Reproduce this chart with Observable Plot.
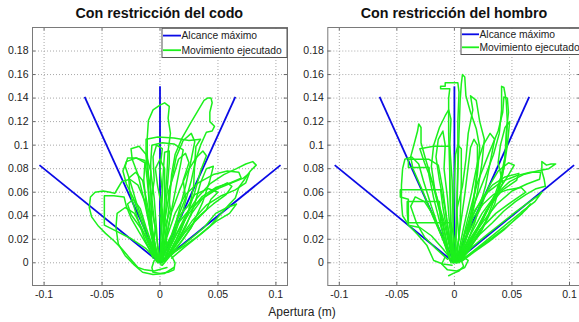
<!DOCTYPE html>
<html>
<head>
<meta charset="utf-8">
<script src="https://cdn.jsdelivr.net/npm/d3@7"></script>
<script src="https://cdn.jsdelivr.net/npm/@observablehq/plot@0.6"></script>
<style>
  html, body { margin: 0; padding: 0; background: #fff; overflow: hidden; }
  #wrap { position: relative; width: 579px; height: 322px; overflow: hidden; background: #fff;
          font-family: "Liberation Sans", Arial, Helvetica, sans-serif; }
  #wrap > svg { position: absolute; top: 0; }
  #overlay { position: absolute; left: 0; top: 0; pointer-events: none; }
</style>
</head>
<body>
<div id="wrap"></div>
<script>
// ---------- data ----------
const titulos = ["Con restricción del codo", "Con restricción del hombro"];
const etiquetaX = "Apertura (m)";
const leyenda = ["Alcance máximo", "Movimiento ejecutado"];

const xTicks = [-0.1, -0.05, 0, 0.05, 0.1];
const xTickLabels = ["-0.1", "-0.05", "0", "0.05", "0.1"];
const yTicks = [0, 0.02, 0.04, 0.06, 0.08, 0.1, 0.12, 0.14, 0.16, 0.18];
const yTickLabels = ["0", "0.02", "0.04", "0.06", "0.08", "0.1", "0.12", "0.14", "0.16", "0.18"];
const xDominio = [-0.11, 0.11];
const yDominio = [-0.0193, 0.2];

// maximum reach rays (from the origin)
const origen = [0, 0];
const alcanceX = [-0.104, -0.065, 0, 0.065, 0.104];
const alcanceY = [0.083, 0.141, 0.150, 0.141, 0.083];

// executed movements, elbow restricted (x, y in m)
const codoTrayectorias = [
  [[0.001,-0.002],[-0.002,0.015],[-0.005,0.035],[-0.007,0.055],[-0.010,0.075],[-0.011,0.092],[-0.011,0.106],[-0.010,0.121],[-0.006,0.130],[0.000,0.134],[0.004,0.136],[0.008,0.133],[0.007,0.123],[0.009,0.110],[0.007,0.095],[0.006,0.075],[0.004,0.050],[0.003,0.025],[0.001,0.004]],
  [[0.002,0.002],[0.005,0.025],[0.008,0.050],[0.010,0.075],[0.013,0.092],[0.019,0.106],[0.026,0.118],[0.032,0.128],[0.038,0.138],[0.041,0.140],[0.044,0.140],[0.045,0.136],[0.043,0.128],[0.043,0.120],[0.047,0.116],[0.045,0.112],[0.040,0.111],[0.035,0.100],[0.031,0.088],[0.027,0.070],[0.020,0.045],[0.012,0.022],[0.005,0.004]],
  [[-0.002,0.001],[-0.006,0.020],[-0.009,0.045],[-0.010,0.070],[-0.012,0.090],[-0.012,0.105],[-0.002,0.107],[0.012,0.106],[0.025,0.104],[0.035,0.105],[0.031,0.099],[0.030,0.085],[0.029,0.065],[0.025,0.045],[0.017,0.025],[0.008,0.008],[0.002,0.000]],
  [[-0.004,0.003],[-0.007,0.030],[-0.008,0.060],[-0.008,0.085],[-0.007,0.100],[0.002,0.102],[0.012,0.101],[0.020,0.096],[0.018,0.085],[0.014,0.065],[0.009,0.040],[0.004,0.015],[0.000,0.001]],
  [[0.006,-0.004],[-0.005,-0.007],[-0.013,-0.006],[-0.019,-0.004],[-0.027,0.005],[-0.033,0.012],[-0.040,0.019],[-0.047,0.025],[-0.053,0.031],[-0.059,0.039],[-0.061,0.047],[-0.060,0.056],[-0.056,0.060],[-0.049,0.061],[-0.043,0.060],[-0.039,0.059],[-0.036,0.064],[-0.033,0.069],[-0.026,0.071],[-0.019,0.066],[-0.013,0.052],[-0.008,0.032],[-0.004,0.012],[-0.001,0.002]],
  [[-0.003,0.003],[-0.012,0.012],[-0.024,0.020],[-0.036,0.026],[-0.048,0.032],[-0.048,0.045],[-0.048,0.057],[-0.040,0.057],[-0.031,0.056],[-0.029,0.048],[-0.025,0.038],[-0.018,0.026],[-0.010,0.013],[-0.003,0.003]],
  [[0.012,-0.004],[0.004,-0.009],[-0.006,-0.010],[-0.015,-0.008],[-0.022,-0.002],[-0.030,0.006],[-0.036,0.016],[-0.038,0.030],[-0.037,0.042],[-0.030,0.047],[-0.022,0.042],[-0.016,0.030],[-0.010,0.016],[-0.004,0.004]],
  [[-0.003,0.001],[-0.010,0.018],[-0.017,0.038],[-0.023,0.055],[-0.029,0.067],[-0.032,0.078],[-0.029,0.086],[-0.021,0.089],[-0.013,0.087],[-0.011,0.070],[-0.009,0.048],[-0.006,0.025],[-0.002,0.005]],
  [[0.003,0.002],[0.012,0.009],[0.022,0.015],[0.032,0.022],[0.043,0.031],[0.052,0.041],[0.060,0.050],[0.065,0.055],[0.068,0.064],[0.073,0.071],[0.078,0.078],[0.083,0.083],[0.080,0.086],[0.074,0.084],[0.066,0.080],[0.055,0.075],[0.043,0.067],[0.032,0.055],[0.022,0.040],[0.013,0.022],[0.005,0.006]],
  [[0.002,0.003],[0.008,0.018],[0.016,0.034],[0.026,0.046],[0.037,0.055],[0.050,0.063],[0.062,0.068],[0.072,0.072],[0.077,0.076],[0.074,0.068],[0.065,0.062],[0.053,0.057],[0.040,0.049],[0.028,0.036],[0.016,0.019],[0.005,0.004]],
  [[0.001,0.002],[0.006,0.022],[0.013,0.042],[0.022,0.058],[0.033,0.068],[0.046,0.075],[0.058,0.078],[0.068,0.077],[0.070,0.072],[0.061,0.068],[0.048,0.064],[0.036,0.056],[0.025,0.042],[0.014,0.024],[0.004,0.004]],
  [[0.002,0.000],[0.005,0.020],[0.010,0.043],[0.017,0.062],[0.024,0.078],[0.031,0.089],[0.037,0.095],[0.040,0.091],[0.035,0.078],[0.030,0.060],[0.023,0.040],[0.014,0.020],[0.005,0.003]],
  [[0.000,0.000],[0.001,0.030],[0.002,0.058],[0.003,0.080],[0.004,0.094],[0.008,0.095],[0.008,0.085],[0.006,0.060],[0.004,0.030],[0.002,0.005]],
  [[-0.001,0.000],[-0.003,0.028],[-0.005,0.055],[-0.008,0.078],[-0.012,0.092],[-0.018,0.099],[-0.025,0.097],[-0.024,0.088],[-0.019,0.075],[-0.013,0.050],[-0.007,0.022],[-0.002,0.003]],
  [[-0.005,0.002],[-0.007,-0.004],[-0.006,-0.008],[0.000,-0.009],[0.007,-0.008],[0.012,-0.006],[0.013,0.000],[0.010,0.006],[0.003,0.008],[-0.002,0.004]],
  [[0.000,0.003],[0.004,0.035],[0.009,0.065],[0.014,0.090],[0.020,0.104],[0.027,0.110],[0.030,0.103],[0.027,0.088],[0.022,0.065],[0.014,0.035],[0.005,0.006]],
  [[0.003,0.001],[0.010,0.010],[0.019,0.026],[0.028,0.043],[0.037,0.055],[0.048,0.063],[0.058,0.068],[0.062,0.065],[0.057,0.058],[0.046,0.050],[0.034,0.040],[0.021,0.025],[0.009,0.008]],
  [[-0.002,0.002],[-0.009,0.017],[-0.017,0.030],[-0.025,0.041],[-0.028,0.050],[-0.023,0.054],[-0.017,0.046],[-0.012,0.030],[-0.005,0.010]],
  [[-0.006,0.004],[-0.014,0.022],[-0.021,0.043],[-0.026,0.060],[-0.027,0.072],[-0.021,0.077],[-0.015,0.070],[-0.011,0.050],[-0.006,0.024],[-0.002,0.004]],
  [[0.001,0.001],[0.003,0.020],[0.002,0.045],[-0.002,0.065],[-0.004,0.080],[0.000,0.088],[0.004,0.080],[0.004,0.055],[0.003,0.025],[0.001,0.002]],
  [[0.004,0.001],[0.014,0.016],[0.022,0.030],[0.030,0.050],[0.035,0.068],[0.040,0.080],[0.046,0.082],[0.043,0.070],[0.037,0.052],[0.027,0.030],[0.014,0.012],[0.004,0.002]],
  [[-0.003,0.002],[-0.008,0.025],[-0.012,0.050],[-0.014,0.070],[-0.013,0.085],[-0.020,0.089],[-0.028,0.089],[-0.030,0.082],[-0.026,0.070],[-0.020,0.050],[-0.012,0.028],[-0.005,0.008]],
  [[0.002,0.001],[0.006,0.015],[0.004,0.030],[0.009,0.045],[0.007,0.060],[0.012,0.075],[0.016,0.088],[0.022,0.093],[0.025,0.085],[0.020,0.070],[0.022,0.055],[0.016,0.040],[0.013,0.025],[0.006,0.010]],
  [[0.000,0.002],[0.004,0.012],[0.010,0.024],[0.015,0.038],[0.024,0.048],[0.030,0.058],[0.042,0.063],[0.050,0.060],[0.044,0.054],[0.040,0.045],[0.030,0.035],[0.020,0.020],[0.010,0.008]],
  [[-0.002,0.000],[-0.006,0.012],[-0.004,0.030],[-0.008,0.050],[-0.005,0.070],[-0.006,0.090],[-0.003,0.100],[0.002,0.097],[0.000,0.080],[0.002,0.060],[0.000,0.040],[0.002,0.020],[0.000,0.003]],
  [[0.002,-0.002],[0.008,0.005],[0.016,0.012],[0.026,0.020],[0.038,0.030],[0.048,0.042],[0.058,0.047],[0.066,0.050],[0.060,0.042],[0.048,0.035],[0.036,0.025],[0.022,0.014],[0.010,0.004]]
];

// executed movements, shoulder restricted (x, y in m)
const hombroTrayectorias = [
  [[-0.002,0.000],[-0.003,0.035],[-0.004,0.075],[-0.005,0.110],[-0.005,0.140],[-0.004,0.148],[-0.012,0.148],[-0.012,0.150],[-0.008,0.150],[-0.008,0.153],[0.003,0.153],[0.004,0.145],[0.003,0.120],[0.003,0.085],[0.002,0.045],[0.001,0.005]],
  [[0.000,0.000],[0.002,0.035],[0.003,0.075],[0.004,0.110],[0.005,0.138],[0.006,0.152],[0.007,0.160],[0.009,0.158],[0.010,0.142],[0.014,0.128],[0.019,0.114],[0.022,0.098],[0.020,0.075],[0.016,0.050],[0.011,0.025],[0.004,0.003]],
  [[0.002,0.000],[0.009,0.025],[0.018,0.052],[0.027,0.074],[0.034,0.092],[0.039,0.110],[0.041,0.130],[0.041,0.150],[0.043,0.149],[0.045,0.138],[0.046,0.120],[0.045,0.098],[0.042,0.075],[0.035,0.050],[0.024,0.028],[0.012,0.010],[0.004,0.002]],
  [[0.003,0.002],[0.011,0.035],[0.020,0.068],[0.030,0.093],[0.038,0.112],[0.042,0.128],[0.043,0.141],[0.046,0.140],[0.047,0.128],[0.045,0.110],[0.044,0.090],[0.038,0.062],[0.027,0.035],[0.013,0.012],[0.005,0.002]],
  [[-0.003,0.000],[-0.010,0.020],[-0.019,0.040],[-0.028,0.062],[-0.036,0.080],[-0.038,0.090],[-0.035,0.101],[-0.032,0.112],[-0.031,0.118],[-0.029,0.115],[-0.029,0.102],[-0.025,0.088],[-0.019,0.068],[-0.012,0.040],[-0.004,0.006]],
  [[-0.004,0.003],[-0.010,0.035],[-0.017,0.062],[-0.020,0.082],[-0.018,0.100],[-0.013,0.115],[-0.008,0.125],[-0.005,0.130],[-0.003,0.122],[-0.004,0.100],[-0.004,0.065],[-0.003,0.030],[-0.001,0.004]],
  [[-0.002,-0.002],[-0.010,-0.001],[-0.018,0.002],[-0.024,0.015],[-0.032,0.024],[-0.039,0.031],[-0.045,0.040],[-0.046,0.052],[-0.046,0.066],[-0.045,0.080],[-0.043,0.088],[-0.037,0.090],[-0.031,0.084],[-0.027,0.070],[-0.020,0.048],[-0.012,0.025],[-0.004,0.006]],
  [[-0.003,0.002],[-0.008,0.018],[-0.012,0.035],[-0.013,0.052],[-0.025,0.052],[-0.041,0.052],[-0.041,0.043],[-0.040,0.032],[-0.030,0.030],[-0.020,0.023],[-0.010,0.012],[-0.003,0.003]],
  [[-0.001,0.000],[-0.006,0.025],[-0.010,0.047],[-0.012,0.062],[-0.030,0.062],[-0.047,0.062],[-0.047,0.056],[-0.040,0.054],[-0.040,0.044],[-0.040,0.034],[-0.020,0.034],[-0.003,0.034],[0.001,0.015],[0.001,0.002]],
  [[-0.004,0.002],[-0.011,0.028],[-0.018,0.055],[-0.022,0.074],[-0.022,0.081],[-0.032,0.081],[-0.040,0.081],[-0.040,0.088],[-0.031,0.088],[-0.022,0.088],[-0.014,0.083],[-0.010,0.062],[-0.006,0.032],[-0.002,0.004]],
  [[0.003,0.001],[0.012,0.012],[0.022,0.024],[0.033,0.034],[0.043,0.044],[0.053,0.052],[0.062,0.058],[0.071,0.063],[0.079,0.065],[0.078,0.071],[0.076,0.078],[0.076,0.086],[0.080,0.083],[0.084,0.084],[0.088,0.084],[0.082,0.080],[0.072,0.078],[0.060,0.075],[0.048,0.069],[0.036,0.058],[0.024,0.042],[0.013,0.022],[0.004,0.004]],
  [[0.004,0.000],[0.014,0.012],[0.026,0.022],[0.040,0.033],[0.053,0.043],[0.064,0.051],[0.073,0.057],[0.076,0.060],[0.070,0.052],[0.058,0.043],[0.043,0.031],[0.028,0.019],[0.014,0.008],[0.005,0.001]],
  [[0.002,0.002],[0.009,0.024],[0.018,0.045],[0.029,0.060],[0.041,0.069],[0.054,0.074],[0.066,0.077],[0.075,0.077],[0.074,0.071],[0.063,0.067],[0.050,0.061],[0.037,0.050],[0.025,0.035],[0.013,0.018],[0.004,0.003]],
  [[0.006,0.001],[0.017,0.009],[0.030,0.018],[0.043,0.028],[0.054,0.038],[0.063,0.046],[0.066,0.050],[0.059,0.042],[0.046,0.031],[0.031,0.020],[0.017,0.010],[0.007,0.003]],
  [[0.001,0.000],[0.005,0.030],[0.009,0.058],[0.012,0.082],[0.014,0.098],[0.017,0.105],[0.020,0.100],[0.020,0.082],[0.017,0.055],[0.011,0.025],[0.003,0.002]],
  [[0.002,0.001],[0.008,0.030],[0.015,0.060],[0.020,0.085],[0.025,0.100],[0.031,0.110],[0.035,0.105],[0.032,0.090],[0.027,0.065],[0.018,0.035],[0.006,0.004]],
  [[-0.005,-0.011],[-0.001,-0.009],[0.004,-0.007],[0.008,-0.003],[0.006,0.002],[0.002,0.003]],
  [[-0.008,0.005],[-0.011,-0.001],[-0.006,-0.006],[0.002,-0.007],[0.009,-0.004],[0.012,0.002],[0.006,0.006]],
  [[-0.001,0.000],[-0.001,0.035],[0.000,0.070],[0.001,0.092],[0.003,0.100],[0.006,0.097],[0.006,0.070],[0.005,0.035],[0.002,0.002]],
  [[0.002,0.000],[0.012,0.025],[0.022,0.045],[0.030,0.065],[0.038,0.078],[0.047,0.085],[0.052,0.083],[0.046,0.073],[0.036,0.058],[0.022,0.032],[0.007,0.005]],
  [[-0.002,0.003],[-0.009,0.035],[-0.018,0.065],[-0.026,0.085],[-0.030,0.097],[-0.018,0.099],[-0.004,0.099],[-0.002,0.070],[-0.001,0.030],[0.000,0.004]],
  [[0.003,0.002],[0.010,0.020],[0.016,0.040],[0.024,0.055],[0.033,0.066],[0.044,0.073],[0.056,0.076],[0.054,0.070],[0.042,0.062],[0.030,0.048],[0.018,0.026],[0.006,0.004]],
  [[-0.001,0.001],[0.004,0.020],[0.002,0.045],[0.007,0.065],[0.010,0.088],[0.012,0.110],[0.016,0.130],[0.014,0.142],[0.019,0.138],[0.022,0.120],[0.026,0.105],[0.024,0.085],[0.020,0.060],[0.014,0.035],[0.006,0.008]],
  [[0.000,0.001],[-0.004,0.020],[-0.008,0.045],[-0.013,0.070],[-0.016,0.090],[-0.014,0.105],[-0.010,0.112],[-0.008,0.100],[-0.009,0.080],[-0.006,0.055],[-0.004,0.030],[-0.001,0.004]],
  [[0.003,0.000],[0.010,0.015],[0.020,0.030],[0.028,0.045],[0.036,0.055],[0.042,0.068],[0.038,0.085],[0.040,0.100],[0.044,0.115],[0.048,0.120],[0.046,0.100],[0.043,0.080],[0.036,0.060],[0.024,0.035],[0.010,0.010]],
  [[-0.006,0.003],[-0.016,0.012],[-0.026,0.022],[-0.033,0.034],[-0.038,0.048],[-0.034,0.056],[-0.026,0.052],[-0.018,0.040],[-0.012,0.025],[-0.005,0.008]],
  [[0.004,0.001],[0.010,0.020],[0.016,0.038],[0.025,0.050],[0.034,0.058],[0.046,0.062],[0.058,0.064],[0.062,0.060],[0.050,0.052],[0.036,0.042],[0.022,0.028],[0.010,0.010]]
];

// ---------- drawing ----------
const AZUL = "#0a0ae6";
const VERDE = "#1cf01c";
const FONT = "'Liberation Sans', Arial, Helvetica, sans-serif";

function panel(trajs, width, marginLeft, marginRight) {
  const rows = trajs.flatMap((t, id) => t.map(([x, y]) => ({x, y, id})));
  const rays = alcanceX.map((x, i) => ({x1: origen[0], y1: origen[1], x2: x, y2: alcanceY[i]}));
  const xf = d => xTickLabels[xTicks.indexOf(d)];
  const yf = d => yTickLabels[yTicks.indexOf(d)];
  const tx = 0.0028, ty = 0.0028;
  return Plot.plot({
    width, height: 322,
    marginLeft, marginRight, marginTop: 27, marginBottom: 37,
    style: {fontFamily: FONT, fontSize: "10.5px", color: "#222", background: "transparent", overflow: "visible"},
    x: {domain: xDominio, label: null},
    y: {domain: yDominio, label: null},
    marks: [
      Plot.gridX(xTicks, {stroke: "#a8a8a8", strokeOpacity: 1, strokeDasharray: "1,2"}),
      Plot.gridY(yTicks, {stroke: "#a8a8a8", strokeOpacity: 1, strokeDasharray: "1,2"}),
      Plot.link(rays, {x1: "x1", y1: "y1", x2: "x2", y2: "y2", stroke: AZUL, strokeWidth: 1.8}),
      Plot.line(rows, {x: "x", y: "y", z: "id", stroke: VERDE, strokeWidth: 1.5, strokeLinejoin: "round"}),
      Plot.ruleX(xTicks, {x: d => d, y1: yDominio[0], y2: yDominio[0] + ty, stroke: "#666"}),
      Plot.ruleX(xTicks, {x: d => d, y1: yDominio[1], y2: yDominio[1] - ty, stroke: "#666"}),
      Plot.ruleY(yTicks, {y: d => d, x1: xDominio[0], x2: xDominio[0] + tx, stroke: "#666"}),
      Plot.ruleY(yTicks, {y: d => d, x1: xDominio[1], x2: xDominio[1] - tx, stroke: "#666"}),
      Plot.frame({stroke: "#7a7a7a"}),
      Plot.axisX(xTicks, {anchor: "bottom", tickSize: 0, tickPadding: 5, tickFormat: xf}),
      Plot.axisY(yTicks, {anchor: "left", tickSize: 0, tickPadding: 4, tickFormat: yf})
    ]
  });
}

const wrap = document.getElementById("wrap");
const left = panel(codoTrayectorias, 290, 32, 3);
left.style.left = "0px";
wrap.appendChild(left);
const right = panel(hombroTrayectorias, 292, 37.3, 1.5);
right.style.left = "290px";
wrap.appendChild(right);

// overlay: titles, x label, legends
const ns = "http://www.w3.org/2000/svg";
const ov = document.createElementNS(ns, "svg");
ov.setAttribute("id", "overlay");
ov.setAttribute("width", 579);
ov.setAttribute("height", 322);
ov.style.fontFamily = FONT;
function el(tag, attrs, text) {
  const e = document.createElementNS(ns, tag);
  for (const k in attrs) e.setAttribute(k, attrs[k]);
  if (text != null) e.textContent = text;
  ov.appendChild(e);
  return e;
}
el("text", {x: 159.3, y: 18, "text-anchor": "middle", "font-weight": "bold", "font-size": 14.3, fill: "#111"}, titulos[0]);
el("text", {x: 454, y: 18, "text-anchor": "middle", "font-weight": "bold", "font-size": 14.3, fill: "#111"}, titulos[1]);
el("text", {x: 302, y: 316, "text-anchor": "middle", "font-size": 12, fill: "#222"}, etiquetaX);

function legend(x0, y0, w, h, y1, y2, lineLen) {
  el("rect", {x: x0 + 0.5, y: y0 + 0.5, width: w, height: h, fill: "#fff", stroke: "#555", "stroke-width": 1});
  el("line", {x1: x0 + 1.5, x2: x0 + lineLen, y1: y0 + y1, y2: y0 + y1, stroke: AZUL, "stroke-width": 1.8});
  el("text", {x: x0 + lineLen + 0.5, y: y0 + y1 + 3.6, "font-size": 10.3, fill: "#222"}, leyenda[0]);
  el("line", {x1: x0 + 1.5, x2: x0 + lineLen, y1: y0 + y2, y2: y0 + y2, stroke: VERDE, "stroke-width": 1.8});
  el("text", {x: x0 + lineLen + 0.5, y: y0 + y2 + 3.6, "font-size": 10.3, fill: "#222"}, leyenda[1]);
}
legend(161.5, 27.8, 125, 29.2, 7.8, 22.4, 19.5);
legend(460.5, 27.8, 120, 26.2, 6.5, 19.5, 18.5);
wrap.appendChild(ov);
</script>
</body>
</html>
